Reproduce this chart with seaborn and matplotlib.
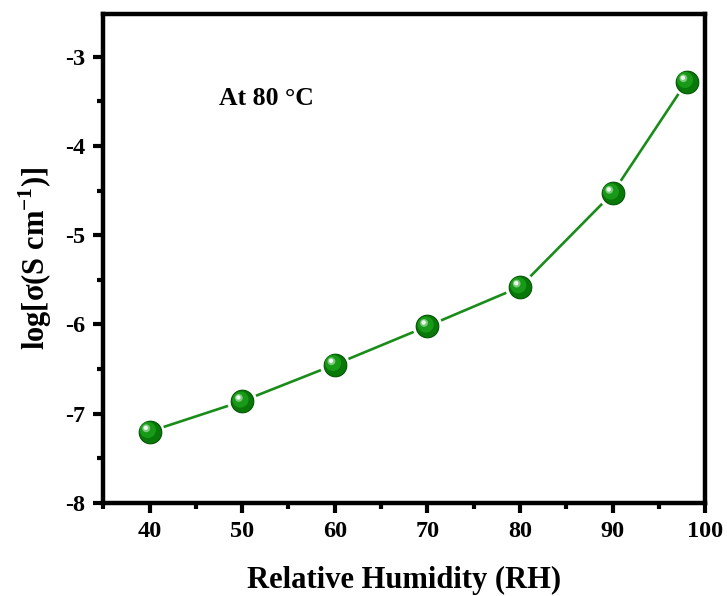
import numpy as np
import pandas as pd
import matplotlib
matplotlib.use("Agg")
import matplotlib.pyplot as plt
import matplotlib.transforms as mtransforms
from matplotlib.ticker import MultipleLocator, FormatStrFormatter
import seaborn as sns

# Conductivity vs relative humidity at 80 °C
humidity = [40, 50, 60, 70, 80, 90, 98]
log_sigma = [-7.20, -6.86, -6.45, -6.02, -5.58, -4.53, -3.28]

df = pd.DataFrame({"RH": humidity, "logS": log_sigma})

sns.set_style("white")
plt.rcParams["font.family"] = ["Liberation Serif", "DejaVu Serif"]
plt.rcParams["font.weight"] = "bold"
plt.rcParams["axes.unicode_minus"] = False
plt.rcParams["text.color"] = "black"
plt.rcParams["axes.labelcolor"] = "black"
plt.rcParams["xtick.color"] = "black"
plt.rcParams["ytick.color"] = "black"
plt.rcParams["mathtext.fontset"] = "custom"
plt.rcParams["mathtext.rm"] = "Liberation Serif:bold"
plt.rcParams["mathtext.bf"] = "Liberation Serif:bold"

fig = plt.figure(figsize=(7.27, 5.96), dpi=100)
ax = fig.add_axes([0.142, 0.156, 0.828, 0.821])

# connecting line
sns.lineplot(data=df, x="RH", y="logS", ax=ax, color="#1a8c1a", linewidth=1.9, zorder=2)

# white halo leaves a small gap between line and symbol
sns.scatterplot(data=df, x="RH", y="logS", ax=ax, s=460, color="white",
                edgecolor="none", zorder=3)
# spherical-looking markers: dark rim, body, highlight
sns.scatterplot(data=df, x="RH", y="logS", ax=ax, s=265, color="#087808",
                edgecolor="#035503", linewidth=0.8, zorder=4)
sns.scatterplot(data=df, x="RH", y="logS", ax=ax, s=135, color="#189a18",
                edgecolor="none", zorder=5,
                transform=mtransforms.offset_copy(ax.transData, fig=fig, x=-1.2, y=1.2, units="points"))
sns.scatterplot(data=df, x="RH", y="logS", ax=ax, s=32, color="#7cc87c",
                edgecolor="none", zorder=6,
                transform=mtransforms.offset_copy(ax.transData, fig=fig, x=-2.4, y=2.4, units="points"))
sns.scatterplot(data=df, x="RH", y="logS", ax=ax, s=10, color="#eef8ee",
                edgecolor="none", zorder=7,
                transform=mtransforms.offset_copy(ax.transData, fig=fig, x=-2.7, y=2.7, units="points"))

ax.set_xlim(35, 100)
ax.set_ylim(-8, -2.52)
ax.xaxis.set_major_locator(MultipleLocator(10))
ax.xaxis.set_minor_locator(MultipleLocator(5))
ax.yaxis.set_major_locator(MultipleLocator(1))
ax.yaxis.set_minor_locator(MultipleLocator(0.5))
ax.yaxis.set_major_formatter(FormatStrFormatter("%d"))
ax.set_xticks([40, 50, 60, 70, 80, 90, 100])

for side in ["left", "right", "top", "bottom"]:
    ax.spines[side].set_visible(True)
    ax.spines[side].set_color("black")
    ax.spines[side].set_linewidth(3.2)

ax.tick_params(which="major", direction="out", length=7, width=3, color="black",
               labelsize=17.5, pad=6, bottom=True, left=True, top=False, right=False)
ax.tick_params(which="minor", direction="out", length=4.5, width=3, color="black",
               bottom=True, left=True, top=False, right=False)
for lab in ax.get_xticklabels() + ax.get_yticklabels():
    lab.set_fontweight("bold")

ax.set_xlabel("Relative Humidity (RH)", fontsize=22, fontweight="bold", labelpad=17)
ax.set_ylabel(r"log[σ(S cm$^{\mathbf{-1}}$)]", fontsize=22, fontweight="bold", labelpad=8)

ax.text(0.193, 0.826, "At 80 °C", transform=ax.transAxes, fontsize=18.5,
        fontweight="bold", ha="left", va="center")

fig.savefig("out.png", dpi=100)
